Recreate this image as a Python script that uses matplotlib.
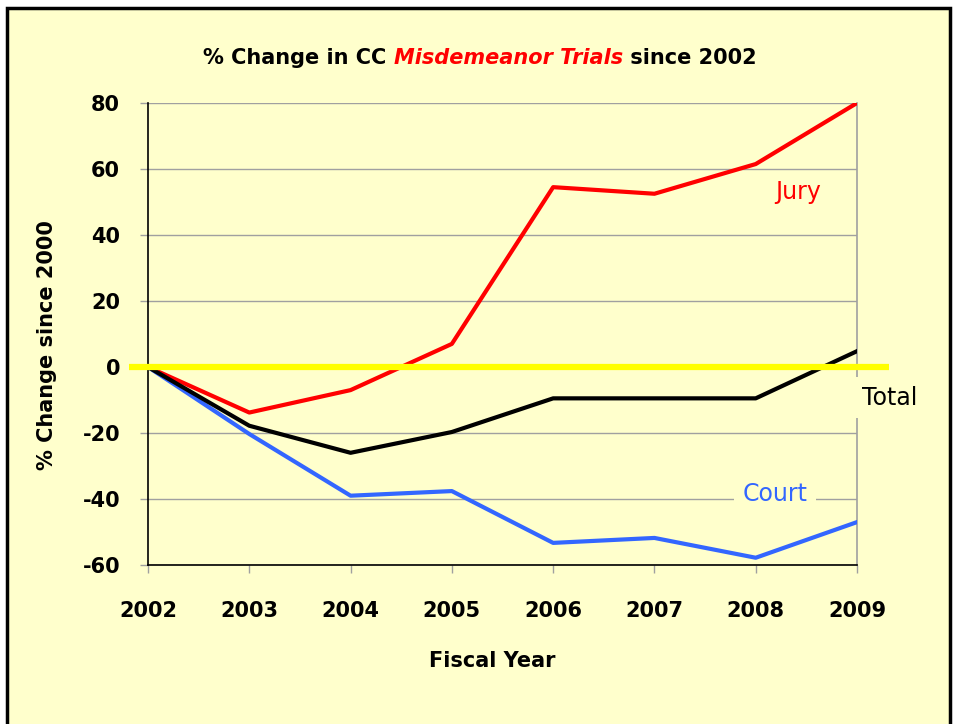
import matplotlib
matplotlib.use("Agg")
import matplotlib.pyplot as plt
from matplotlib.patches import Rectangle

# Data
years = [2002, 2003, 2004, 2005, 2006, 2007, 2008, 2009]
jury = [0, -13.8, -7, 7, 54.5, 52.5, 61.5, 80]
total = [0, -17.8, -26, -19.7, -9.5, -9.5, -9.5, 4.8]
court = [0, -20.3, -39, -37.6, -53.3, -51.8, -57.8, -47]
y_ticks = [-60, -40, -20, 0, 20, 40, 60, 80]

BG = "#FFFFCC"
FONT = "DejaVu Sans"
plt.rcParams["axes.unicode_minus"] = False

fig = plt.figure(figsize=(9.54, 7.24), dpi=100, facecolor="white")

# yellow panel with black frame (open at the bottom)
frame = Rectangle((7 / 954, -0.1), 943 / 954, 1.1 - 7.5 / 724,
                  transform=fig.transFigure, facecolor=BG, edgecolor="black",
                  linewidth=2.5, zorder=-10)
fig.patches.append(frame)

ax = fig.add_axes([148 / 954, 1 - 565 / 724, 709 / 954, 462 / 724])
ax.set_facecolor(BG)

ax.plot(years, jury, color="#FF0000", lw=3, zorder=3)
ax.plot(years, court, color="#3366FF", lw=3, zorder=3)
ax.plot(years, total, color="black", lw=3, zorder=3)

# yellow zero line that sticks out past the axes
ax.plot([2001.81, 2009.32], [0, 0], color="#FFFF00", lw=4.5, zorder=4,
        clip_on=False, solid_capstyle="butt")

ax.set_xlim(2002, 2009)
ax.set_ylim(-60, 80)
ax.set_xticks(years)
ax.set_yticks(y_ticks)
ax.yaxis.grid(True, color="#A0A0A0", lw=1)
ax.set_axisbelow(True)

for s in ["left", "bottom"]:
    ax.spines[s].set_color("black")
    ax.spines[s].set_linewidth(1.2)
ax.spines["top"].set_visible(False)
ax.spines["right"].set_color("#A0A0A0")
ax.spines["right"].set_linewidth(1.2)

ax.tick_params(axis="both", direction="out", length=6, color="#A0A0A0",
               width=1)
ax.tick_params(axis="x", pad=20)
ax.tick_params(axis="y", pad=14)
for lab in ax.get_xticklabels() + ax.get_yticklabels():
    lab.set_fontfamily(FONT)
    lab.set_fontweight("bold")
    lab.set_fontsize(15)

ax.set_xlabel("Fiscal Year", fontsize=15, fontweight="bold", family=FONT)
ax.xaxis.set_label_coords((492 - 148) / 709, -(651 - 565) / 462)
ax.set_ylabel("% Change since 2000", fontsize=15, fontweight="bold",
              family=FONT)
ax.yaxis.set_label_coords(-(148 - 57) / 709, (565 - 345) / 462)

# series labels
box = dict(facecolor=BG, edgecolor="none", pad=6)
ax.text(2008.42, 53, "Jury", color="#FF0000", fontsize=17, family=FONT,
        ha="center", va="center", bbox=box, zorder=5)
ax.text(2009.32, -9.3, "Total", color="black", fontsize=17, family=FONT,
        ha="center", va="center", bbox=box, zorder=5, clip_on=False)
ax.text(2008.19, -38.5, "Court", color="#3366FF", fontsize=17, family=FONT,
        ha="center", va="center", bbox=box, zorder=5)

# multi-coloured title
parts = [("% Change in CC ", "black", "normal"),
         ("Misdemeanor Trials", "#FF0000", "italic"),
         (" since 2002", "black", "normal")]
renderer = fig.canvas.get_renderer()
texts = []
widths = []
for s, c, st in parts:
    t = fig.text(0, 1 - 58 / 724, s, color=c, style=st, fontsize=15,
                 fontweight="bold", family=FONT, va="center", ha="left")
    texts.append(t)
    widths.append(t.get_window_extent(renderer).width)
x = 480 - sum(widths) / 2
for t, w in zip(texts, widths):
    t.set_x(x / 954)
    x += w

fig.savefig("out.png", dpi=100, facecolor=fig.get_facecolor())
